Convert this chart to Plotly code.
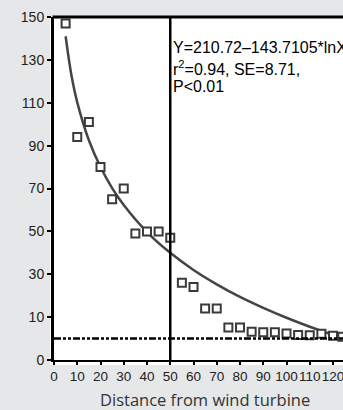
import plotly.graph_objects as go

# observed data points (distance, value)
dist = [5, 10, 15, 20, 25, 30, 35, 40, 45, 50, 55, 60, 65, 70, 75, 80,
        85, 90, 95, 100, 105, 110, 115, 120, 124]
vals = [147, 94, 101, 80, 65, 70, 49, 50, 50, 47, 26, 24, 14, 14, 5.2, 5.2,
        3.2, 3.0, 3.0, 2.4, 1.7, 1.5, 2.2, 1.3, 0.8]

# fitted curve
curve_x = [5, 7.5, 10, 15, 20, 25, 30, 40, 50, 60, 70, 80, 90, 100, 110, 120, 124.5]
curve_y = [141, 122.8, 110.2, 92.5, 80.0, 70.2, 62.3, 49.7, 40.0, 32.0, 25.3,
           19.4, 14.3, 9.7, 5.5, 1.7, 0.2]

x_ticks = [0, 10, 20, 30, 40, 50, 60, 70, 80, 90, 100, 110, 120]
y_tickvals = [-10, 10, 30, 50, 70, 90, 110, 130, 150]
y_ticktext = ["0", "10", "30", "50", "70", "90", "110", "130", "150"]

eq_lines = ["Y=210.72–143.7105*lnX", "r<sup>2</sup>=0.94, SE=8.71,", "P<0.01"]
eq_y = [136, 126.4, 117.8]

threshold = 0
cut_x = 50
x_title = "Distance from wind turbine"

x_tick_font = dict(family="Liberation Sans, Arial, sans-serif", size=13.5, color="#222222")
y_tick_font = dict(family="Liberation Sans, Arial, sans-serif", size=14, color="#222222")

fig = go.Figure()
fig.add_trace(go.Scatter(x=curve_x, y=curve_y, mode="lines",
                         line=dict(color="#444444", width=2.5, shape="spline"),
                         hoverinfo="skip", showlegend=False))
fig.add_trace(go.Scatter(x=dist, y=vals, mode="markers",
                         marker=dict(symbol="square", size=8, color="white",
                                     line=dict(color="#3a3a3a", width=2)),
                         cliponaxis=True, showlegend=False))

# white panel behind plot
fig.add_shape(type="rect", xref="paper", yref="paper",
              x0=-4/289, x1=1.05, y0=-5/343, y1=1.003,
              fillcolor="white", line=dict(width=0), layer="below")
# horizontal dash-dot line
fig.add_shape(type="line", xref="x", yref="y", x0=0, x1=124.5, y0=threshold, y1=threshold,
              line=dict(color="black", width=2.5, dash="7px,2px,3px,2px,3px,2px"))
# vertical line
fig.add_shape(type="line", xref="x", yref="y", x0=cut_x, x1=cut_x, y0=-10, y1=150,
              line=dict(color="black", width=2.5))
# top frame line
fig.add_shape(type="line", xref="paper", yref="paper", x0=-0.005, x1=1.05, y0=1, y1=1,
              line=dict(color="black", width=3))

for t, yy in zip(eq_lines, eq_y):
    fig.add_annotation(x=cut_x, y=yy, xref="x", yref="y", text=t, showarrow=False,
                       xanchor="left", yanchor="middle", xshift=1,
                       font=dict(family="Liberation Sans, Arial, sans-serif", size=16, color="black"))

fig.add_annotation(x=0.524, y=-0.115, xref="paper", yref="paper", text=x_title,
                   showarrow=False, xanchor="center", yanchor="middle",
                   font=dict(family="Open Sans, DejaVu Sans, sans-serif", size=16.5, color="#333333"))

fig.update_layout(
    width=343, height=410,
    margin=dict(l=54, r=0, t=17, b=50),
    paper_bgcolor="#e6e7e8", plot_bgcolor="white",
    xaxis=dict(range=[0, 124.3], tickvals=x_ticks, showgrid=False, zeroline=False,
               showline=True, linecolor="black", linewidth=2, automargin=False,
               ticks="outside", ticklen=3, tickwidth=2, tickcolor="black",
               tickangle=0, tickfont=x_tick_font, ticklabeloverflow="allow"),
    yaxis=dict(range=[-10, 150], tickvals=y_tickvals, ticktext=y_ticktext,
               showgrid=False, zeroline=False, automargin=False,
               showline=True, linecolor="black", linewidth=3,
               ticks="outside", ticklen=4, tickwidth=2, tickcolor="black",
               tickfont=y_tick_font, ticklabeloverflow="allow"),
)

fig.write_html("out.html", config={"displayModeBar": False},
               post_script="document.body.style.margin='0';document.body.style.background='#e6e7e8';")
